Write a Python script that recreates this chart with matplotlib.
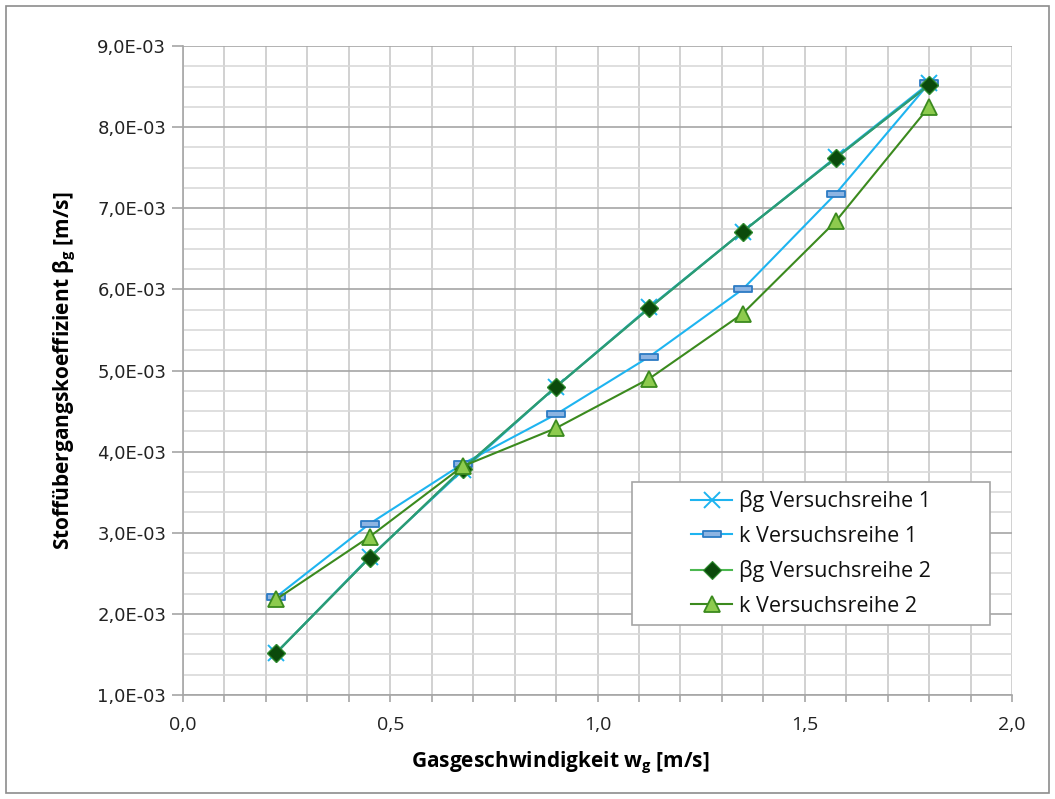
import matplotlib
matplotlib.use("Agg")
import matplotlib.pyplot as plt
from matplotlib.ticker import MultipleLocator, FuncFormatter
from matplotlib.path import Path
from matplotlib.patches import Rectangle

# Gas velocity [m/s]
w_g = [0.225, 0.45, 0.675, 0.9, 1.125, 1.35, 1.575, 1.8]

# Mass transfer coefficients [m/s]
beta_vr1 = [1.52e-3, 2.70e-3, 3.77e-3, 4.80e-3, 5.78e-3, 6.71e-3, 7.63e-3, 8.54e-3]
k_vr1 = [2.21e-3, 3.11e-3, 3.85e-3, 4.46e-3, 5.17e-3, 6.00e-3, 7.18e-3, 8.54e-3]
beta_vr2 = [1.52e-3, 2.69e-3, 3.79e-3, 4.80e-3, 5.77e-3, 6.71e-3, 7.62e-3, 8.52e-3]
k_vr2 = [2.18e-3, 2.95e-3, 3.82e-3, 4.29e-3, 4.90e-3, 5.70e-3, 6.84e-3, 8.25e-3]

labels = ["βg Versuchsreihe 1", "k Versuchsreihe 1",
          "βg Versuchsreihe 2", "k Versuchsreihe 2"]

fig = plt.figure(figsize=(10.55, 7.99), dpi=100)
ax = fig.add_axes([183 / 1055, 1 - 695 / 799, (1012 - 183) / 1055, (695 - 46) / 799])

# flat bar marker
bar = Path([(-1, -0.28), (1, -0.28), (1, 0.28), (-1, 0.28), (-1, -0.28)],
           [Path.MOVETO, Path.LINETO, Path.LINETO, Path.LINETO, Path.CLOSEPOLY])

ax.plot(w_g, beta_vr1, color="#1EB4F0", lw=1.5, marker="x", ms=11, mew=1.4,
        label=labels[0], zorder=3)
ax.plot(w_g, k_vr1, color="#1EB4F0", lw=1.5, marker=bar, ms=13, mfc="#8DB4E2",
        mec="#2C7BC4", mew=1.3, label=labels[1], zorder=3)
ax.plot(w_g, beta_vr2, color="#4CB850", lw=1.5, marker="D", ms=9,
        mfc="#0B4A0B", mec="#2E8B2E", mew=0.8, label=labels[2], zorder=4)
ax.plot(w_g, k_vr2, color="#3B8A1E", lw=1.5, marker="^", ms=12, mfc="#8DCB4E",
        mec="#3B8A1E", mew=1.3, label=labels[3], zorder=5)
# teal tint where the two βg lines coincide
ax.plot(w_g, beta_vr2, color="#2A9A78", lw=1.6, zorder=4.5)
ax.plot(w_g, beta_vr2, ls="none", marker="D", ms=9, mfc="#0B4A0B",
        mec="#2E8B2E", mew=0.8, zorder=4.6)

ax.set_xlim(0, 2.0)
ax.set_ylim(1e-3, 9e-3)
ax.xaxis.set_major_locator(MultipleLocator(0.5))
ax.xaxis.set_minor_locator(MultipleLocator(0.1))
ax.yaxis.set_major_locator(MultipleLocator(1e-3))
ax.yaxis.set_minor_locator(MultipleLocator(0.25e-3))

ax.xaxis.set_major_formatter(FuncFormatter(lambda v, p: f"{v:.1f}".replace(".", ",")))
ax.yaxis.set_major_formatter(FuncFormatter(lambda v, p: f"{v:.1E}".replace(".", ",")))

ax.grid(which="major", axis="y", color="#A6A6A6", lw=1.2)
ax.grid(which="minor", axis="y", color="#D9D9D9", lw=1.2)
ax.grid(which="both", axis="x", color="#CACACA", lw=1.2)
ax.set_axisbelow(True)

for s in ["top", "right"]:
    ax.spines[s].set_visible(False)
for s in ["left", "bottom"]:
    ax.spines[s].set_color("#A6A6A6")
    ax.spines[s].set_linewidth(1.2)

ax.tick_params(axis="y", which="major", length=8, color="#A6A6A6", width=1.2,
               labelsize=13, labelcolor="#222222", pad=4)
ax.tick_params(axis="y", which="minor", length=0)
ax.tick_params(axis="x", which="both", length=5, color="#A6A6A6", width=1.2)
ax.tick_params(axis="x", which="major", labelsize=14, labelcolor="#222222", pad=10)
for t in ax.get_xticklabels():
    t.set_family(["Liberation Sans Narrow", "Open Sans"])

ax.set_xlabel("Gasgeschwindigkeit w$_\\mathregular{g}$ [m/s]", fontsize=15,
              fontweight="bold", family=["Liberation Sans Narrow", "Open Sans"],
              labelpad=20)
ax.xaxis.set_label_coords((560 - 183) / 829, -0.085)
ax.set_ylabel("Stoffübergangskoeffizient β$_\\mathregular{g}$ [m/s]", fontsize=15,
              fontweight="bold", family=["Liberation Sans Narrow", "Open Sans"],
              labelpad=14)

# legend frame and centred entries
x0, x1, y0, y1 = 632, 990, 482, 625
ax.add_patch(Rectangle(((x0 - 183) / 829, (695 - y1) / 649),
                       (x1 - x0) / 829, (y1 - y0) / 649, transform=ax.transAxes,
                       facecolor="white", edgecolor="#A6A6A6", lw=1.2, zorder=6))
leg = ax.legend(loc="center", bbox_to_anchor=(((x0 + x1) / 2 - 183) / 829,
                                              (695 - (y0 + y1) / 2) / 649),
                fontsize=15.5, frameon=False, handlelength=1.9, handletextpad=0.3,
                labelspacing=0.62, borderpad=0.0)
leg.set_zorder(7)
for t in leg.get_texts():
    t.set_family(["Open Sans", "DejaVu Sans"])
    t.set_color("#111111")

fig.patches.append(Rectangle((6 / 1055, 6 / 799), 1 - 12 / 1055, 1 - 12 / 799,
                             transform=fig.transFigure, fill=False,
                             edgecolor="#8C8C8C", lw=1.2))

fig.savefig("out.png", dpi=100)
